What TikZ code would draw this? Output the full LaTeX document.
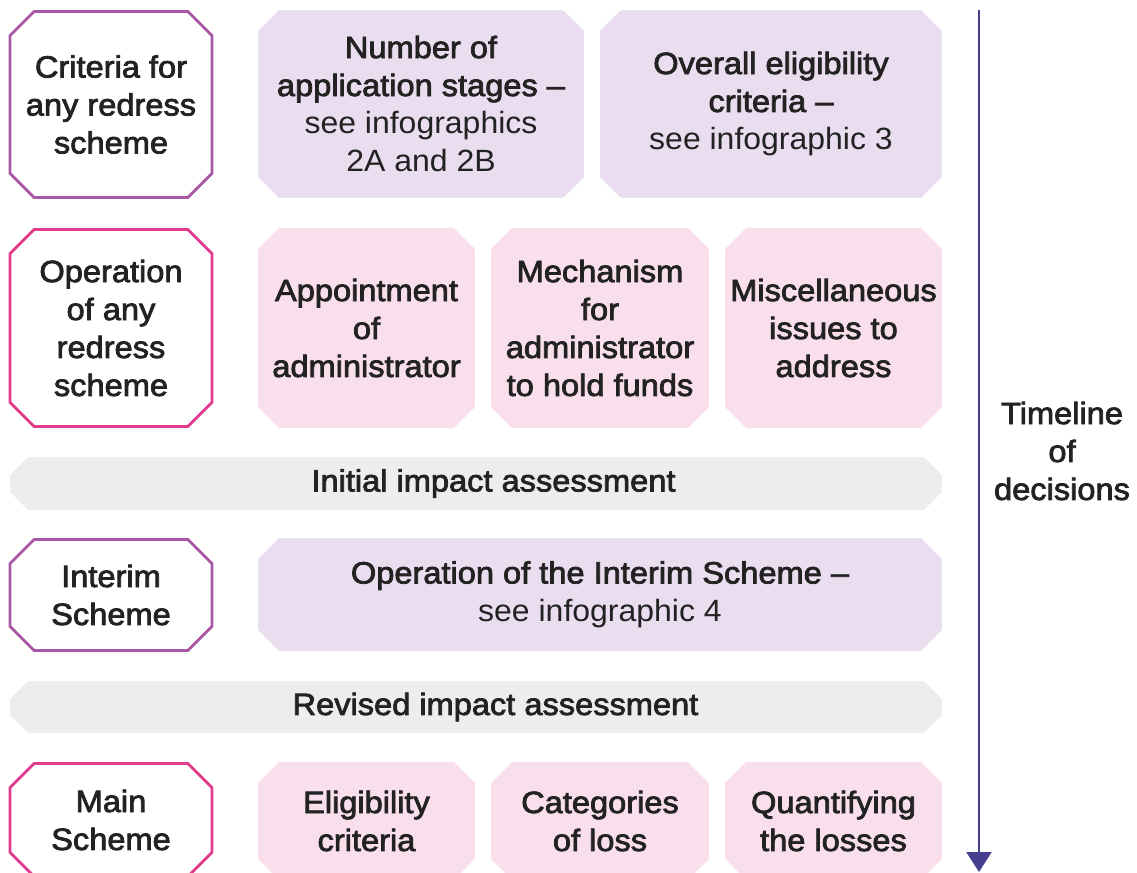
\documentclass[tikz,border=0pt]{standalone}
\usepackage{fontspec}
\setmainfont{Liberation Sans}[FakeStretch=1.04, BoldFont={Liberation Sans}, BoldFeatures={FakeBold=2.5, FakeStretch=1.06}]
\usetikzlibrary{shapes.misc, arrows.meta, positioning, backgrounds}

\definecolor{purpleline}{RGB}{168,88,164}
\definecolor{pinkline}{RGB}{226,61,141}
\definecolor{purplefill}{RGB}{233,221,239}
\definecolor{pinkfill}{RGB}{249,222,236}
\definecolor{greyfill}{RGB}{238,236,237}
\definecolor{timecol}{RGB}{70,62,143}
\definecolor{txt}{RGB}{34,34,34}

\tikzstyle{box} = [rectangle, inner sep=0pt, outer sep=0pt, align=center, text=txt, font=\fontsize{17.5}{21.6}\selectfont\bfseries]
\tikzstyle{phase} = [box, minimum width=4.04cm]
\tikzstyle{assessment} = [box, minimum width=18.64cm]
\tikzstyle{timeline} = [draw=timecol, line width=1.4pt, -{Triangle[width=0.5cm, length=0.4cm]}]

% octagon behind a node: node name, chamfer, path options
\newcommand{\octagon}[3]{%
  \path[#3] ([xshift=#2]#1.north west) -- ([xshift=-#2]#1.north east) -- ([yshift=-#2]#1.north east)
    -- ([yshift=#2]#1.south east) -- ([xshift=-#2]#1.south east) -- ([xshift=#2]#1.south west)
    -- ([yshift=#2]#1.south west) -- ([yshift=-#2]#1.north west) -- cycle;}

\begin{document}
\begin{tikzpicture}[x=0.02cm, y=-0.02cm]
\useasboundingbox (0,0) rectangle (1137,873);
\clip (0,0) rectangle (1137,873);

% Criteria row
\node (criteria) [phase, minimum height=3.72cm] at (111,104.5) {Criteria for\\any redress\\scheme};
\node (stages) [box, minimum width=6.52cm, minimum height=3.76cm] at (421,104) {Number of\\application stages –\\\mdseries see infographics\\\mdseries 2A and 2B};
\node (overall) [box, minimum width=6.84cm, minimum height=3.76cm] at (771,104) {Overall eligibility\\criteria –\\\mdseries see infographic 3};

% Operation row
\node (operation) [phase, minimum height=3.94cm] at (111,328) {Operation\\of any\\redress\\scheme};
\node (appointment) [box, minimum width=4.34cm, minimum height=4cm] at (366.5,328) {Appointment\\of\\administrator};
\node (mechanism) [box, minimum width=4.36cm, minimum height=4cm] at (600,328) {Mechanism\\for\\administrator\\to hold funds};
\node (misc) [box, minimum width=4.34cm, minimum height=4cm] at (833.5,328) {Miscellaneous\\issues to\\address};

\node (initial) [assessment, minimum height=1.06cm] at (476,483.5) {\hspace*{0.7cm}Initial impact assessment};

% Interim scheme row
\node (interim) [phase, minimum height=2.22cm] at (111,595) {Interim\\Scheme};
\node (interim_op) [box, minimum width=13.68cm, minimum height=2.26cm] at (600,594.5) {Operation of the Interim Scheme –\\\mdseries see infographic 4};

\node (revised) [assessment, minimum height=1.04cm] at (476,707) {\hspace*{0.78cm}Revised impact assessment};

% Main scheme row
\node (main) [phase, minimum height=2.26cm] at (111,820) {Main\\Scheme};
\node (eligibility) [box, minimum width=4.34cm, minimum height=2.36cm] at (366.5,821) {Eligibility\\criteria};
\node (categories) [box, minimum width=4.36cm, minimum height=2.36cm] at (600,821) {Categories\\of loss};
\node (quantifying) [box, minimum width=4.34cm, minimum height=2.36cm] at (833.5,821) {Quantifying\\the losses};

% Shapes behind the text
\begin{scope}[on background layer]
\octagon{criteria}{0.48cm}{draw=purpleline, fill=white, line width=1.6pt}
\octagon{interim}{0.48cm}{draw=purpleline, fill=white, line width=1.6pt}
\octagon{operation}{0.48cm}{draw=pinkline, fill=white, line width=1.6pt}
\octagon{main}{0.48cm}{draw=pinkline, fill=white, line width=1.6pt}
\foreach \n in {stages, overall, interim_op}
  \octagon{\n}{0.42cm}{fill=purplefill};
\foreach \n in {appointment, mechanism, misc, eligibility, categories, quantifying}
  \octagon{\n}{0.42cm}{fill=pinkfill};
\foreach \n in {initial, revised}
  \octagon{\n}{0.36cm}{fill=greyfill};
\end{scope}

% Timeline
\coordinate (tl_top) at (979,10);
\coordinate (tl_end) at (979,872);
\draw [timeline] (tl_top) -- (tl_end);
\node (tl_label) [box] at (1062,451) {Timeline\\of\\decisions};

\end{tikzpicture}
\end{document}
